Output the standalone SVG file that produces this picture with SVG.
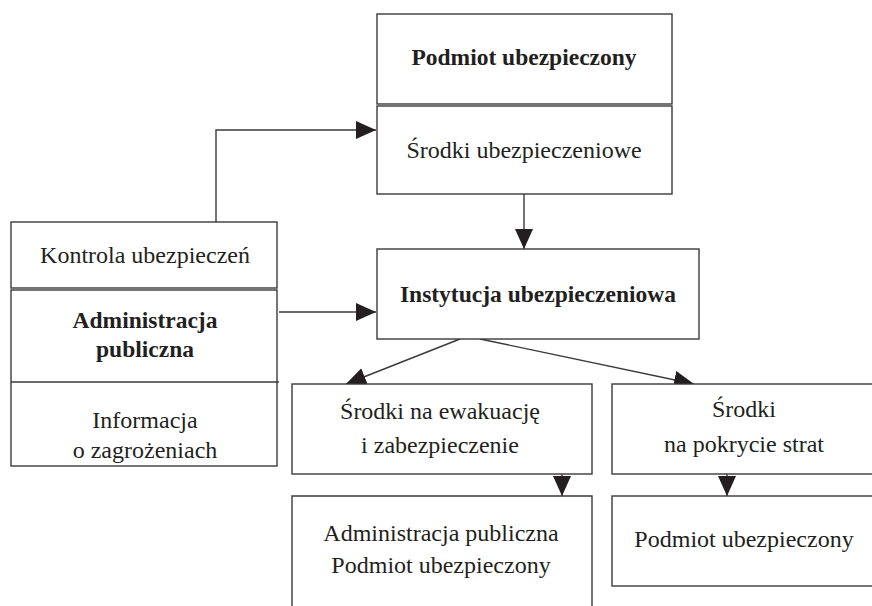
<svg xmlns="http://www.w3.org/2000/svg" width="872" height="606" viewBox="0 0 872 606">
<style>
.box{fill:#fff;stroke:#3a3a3a;stroke-width:1.4}
.ln{fill:none;stroke:#3a3a3a;stroke-width:1.4}
text{font-family:"Liberation Serif","Times New Roman",serif;font-size:24px;fill:#231f20;text-anchor:middle}
.b{font-weight:bold;font-size:23.5px}
</style>
<defs>
<marker id="ah" markerUnits="userSpaceOnUse" markerWidth="21" markerHeight="19" refX="20" refY="9" orient="auto" viewBox="0 0 21 19">
<path d="M0,0 L20,9 L0,18 z" fill="#231f20"/>
</marker>
</defs>
<rect width="872" height="606" fill="#fff"/>
<g id="connectors">
<path class="ln" d="M216,222 V130 H376" marker-end="url(#ah)"/>
<path class="ln" d="M279,312 H376" marker-end="url(#ah)"/>
<path class="ln" d="M524,194 V249" marker-end="url(#ah)"/>
<path class="ln" d="M460,339 L346,384" marker-end="url(#ah)"/>
<path class="ln" d="M480,339 L694,384" marker-end="url(#ah)"/>
<path class="ln" d="M562,474 V496" marker-end="url(#ah)"/>
<path class="ln" d="M727,474 V496" marker-end="url(#ah)"/>
</g>
<g id="podmiot-top">
<rect class="box" x="377" y="14" width="295" height="90"/>
<text class="b" x="524" y="65">Podmiot ubezpieczony</text>
</g>
<g id="srodki-ubezp">
<rect class="box" x="377" y="106" width="295" height="88"/>
<text x="524" y="158">Środki ubezpieczeniowe</text>
</g>
<g id="kontrola">
<rect class="box" x="11" y="222" width="266" height="66"/>
<text x="145" y="263">Kontrola ubezpieczeń</text>
</g>
<g id="administracja">
<rect class="box" x="11" y="290" width="266" height="176"/>
<line class="ln" x1="11" y1="382" x2="279" y2="382"/>
<text class="b" x="145" y="328">Administracja</text>
<text class="b" x="145" y="357">publiczna</text>
<text x="145" y="428">Informacja</text>
<text x="145" y="458">o zagrożeniach</text>
</g>
<g id="instytucja">
<rect class="box" x="377" y="249" width="322" height="90"/>
<text class="b" x="538" y="302">Instytucja ubezpieczeniowa</text>
</g>
<g id="srodki-ewakuacja">
<rect class="box" x="292" y="384" width="300" height="90"/>
<text x="440" y="419">Środki na ewakuację</text>
<text x="440" y="453">i zabezpieczenie</text>
</g>
<g id="srodki-straty">
<rect class="box" x="612" y="384" width="266" height="90"/>
<text x="744" y="417">Środki</text>
<text x="744" y="452">na pokrycie strat</text>
</g>
<g id="adm-podmiot">
<path class="box" d="M292,607 V496 H592 V607"/>
<text x="441" y="541">Administracja publiczna</text>
<text x="441" y="573">Podmiot ubezpieczony</text>
</g>
<g id="podmiot-bottom">
<rect class="box" x="612" y="496" width="266" height="90"/>
<text x="744" y="547">Podmiot ubezpieczony</text>
</g>
</svg>
